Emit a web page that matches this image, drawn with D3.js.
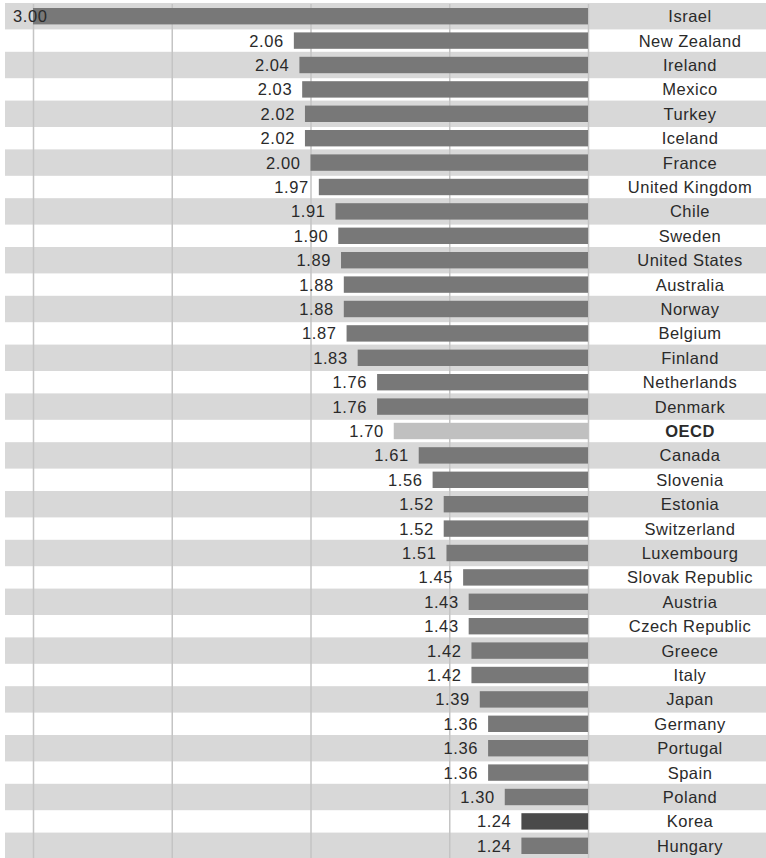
<!DOCTYPE html>
<html>
<head>
<meta charset="utf-8">
<script src="https://cdn.jsdelivr.net/npm/d3@7"></script>
<style>
  body { margin: 0; background: #fff; }
  text { font-family: "Liberation Sans", Arial, sans-serif; font-size: 16.5px; fill: #2a2a2a; }
</style>
</head>
<body>
<svg id="chart" width="766" height="858"></svg>
<script>
var countries = ["Israel","New Zealand","Ireland","Mexico","Turkey","Iceland","France",
  "United Kingdom","Chile","Sweden","United States","Australia","Norway","Belgium",
  "Finland","Netherlands","Denmark","OECD","Canada","Slovenia","Estonia","Switzerland",
  "Luxembourg","Slovak Republic","Austria","Czech Republic","Greece","Italy","Japan",
  "Germany","Portugal","Spain","Poland","Korea","Hungary"];
var values = [3.00,2.06,2.04,2.03,2.02,2.02,2.00,1.97,1.91,1.90,1.89,1.88,1.88,1.87,
  1.83,1.76,1.76,1.70,1.61,1.56,1.52,1.52,1.51,1.45,1.43,1.43,1.42,1.42,1.39,
  1.36,1.36,1.36,1.30,1.24,1.24];
var gridTicks = [1, 1.5, 2, 2.5, 3];

var data = countries.map(function(c, i) { return {name: c, value: values[i]}; });

var svg = d3.select("#chart");

var x = d3.scaleLinear().domain([1, 3]).range([588, 33]);
var y = d3.scaleBand().domain(countries).range([4, 858]);
var bh = y.bandwidth();

// alternating row bands
svg.append("g").selectAll("rect")
    .data(data.filter(function(d, i) { return i % 2 === 0; }))
  .enter().append("rect")
    .attr("x", 5)
    .attr("y", function(d) { return y(d.name) - 1; })
    .attr("width", 761)
    .attr("height", bh + 2)
    .attr("fill", "#d8d8d8");

// vertical gridlines
svg.append("g")
    .attr("transform", "translate(0,4)")
    .call(d3.axisBottom(x).tickValues(gridTicks).tickSize(854).tickFormat(""))
    .call(function(g) { g.select(".domain").remove(); })
    .call(function(g) { g.selectAll("line").attr("stroke", "#c4c4c4").attr("stroke-width", 1.5); });

// bars
svg.append("g").selectAll("rect")
    .data(data)
  .enter().append("rect")
    .attr("x", function(d) { return x(d.value); })
    .attr("y", function(d) { return y(d.name) + 4; })
    .attr("width", function(d) { return x(1) - x(d.value); })
    .attr("height", bh - 8)
    .attr("fill", function(d) {
      if (d.name === "OECD") return "#c0c0c0";
      if (d.name === "Korea") return "#4a4a4a";
      return "#787878";
    });

// value labels (the one that doesn't fit is pushed to the left edge, over its bar)
svg.append("g").selectAll("text")
    .data(data)
  .enter().append("text")
    .attr("x", function(d) { return x(d.value) - 10 < 48 ? 13 : x(d.value) - 10; })
    .attr("y", function(d) { return y(d.name) + bh / 2; })
    .attr("dy", "0.36em")
    .attr("text-anchor", function(d) { return x(d.value) - 10 < 48 ? "start" : "end"; })
    .style("letter-spacing", "0.6px")
    .text(function(d) { return d.value.toFixed(2); });

// category labels
svg.append("g").selectAll("text")
    .data(data)
  .enter().append("text")
    .attr("x", 690)
    .attr("y", function(d) { return y(d.name) + bh / 2; })
    .attr("dy", "0.36em")
    .attr("text-anchor", "middle")
    .style("letter-spacing", "0.5px")
    .style("font-weight", function(d) { return d.name === "OECD" ? "bold" : null; })
    .text(function(d) { return d.name; });
</script>
</body>
</html>
